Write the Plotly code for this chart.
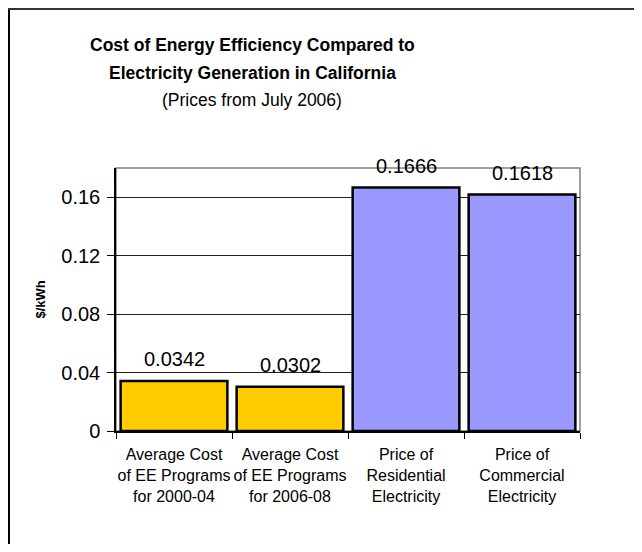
import plotly.graph_objects as go

categories = [
    "Average Cost<br>of EE Programs<br>for 2000-04",
    "Average Cost<br>of EE Programs<br>for 2006-08",
    "Price of<br>Residential<br>Electricity",
    "Price of<br>Commercial<br>Electricity",
]
values = [0.0342, 0.0302, 0.1666, 0.1618]
value_labels = ["0.0342", "0.0302", "0.1666", "0.1618"]
bar_colors = ["#FFCC00", "#FFCC00", "#9999FF", "#9999FF"]
y_tickvals = [0, 0.04, 0.08, 0.12, 0.16]
y_ticktext = ["0", "0.04", "0.08", "0.12", "0.16"]

FONT = "Liberation Sans, Arial, sans-serif"

# the page body adds an 8px margin on every side; size the figure to fit
OFF = 8
W, H = 642 - 2 * OFF, 552 - 2 * OFF
PLOT_L, PLOT_R, PLOT_T, PLOT_B = 116, 580, 168, 431   # page pixels
ML = PLOT_L - OFF
MT = PLOT_T - OFF
MR = W - (PLOT_R - OFF)
MB = H - (PLOT_B - OFF)
PW = W - ML - MR
PH = H - MT - MB


def px_x(x):
    return (x - OFF - ML) / PW


def px_y(y):
    return (H - MB - (y - OFF)) / PH


fig = go.Figure()
fig.add_trace(go.Bar(
    x=categories,
    y=values,
    marker=dict(color=bar_colors, line=dict(color="black", width=2.5)),
    showlegend=False,
    hoverinfo="x+y",
))

annotations = []
for c, v, t in zip(categories, values, value_labels):
    annotations.append(dict(
        x=c, y=v, xref="x", yref="y", text=t, showarrow=False,
        yanchor="bottom", yshift=9,
        font=dict(family=FONT, size=20, color="black"),
    ))

annotations += [
    dict(x=px_x(252), y=px_y(45), xref="paper", yref="paper",
         text="<b>Cost of Energy Efficiency Compared to</b>", showarrow=False,
         xanchor="center", yanchor="middle",
         font=dict(family=FONT, size=17.5, color="black")),
    dict(x=px_x(252), y=px_y(73), xref="paper", yref="paper",
         text="<b>Electricity Generation in California</b>", showarrow=False,
         xanchor="center", yanchor="middle",
         font=dict(family=FONT, size=17.5, color="black")),
    dict(x=px_x(252), y=px_y(100), xref="paper", yref="paper",
         text="(Prices from July 2006)", showarrow=False,
         xanchor="center", yanchor="middle",
         font=dict(family=FONT, size=17.5, color="black")),
    dict(x=px_x(40), y=0.5, xref="paper", yref="paper",
         text="<b>$/kWh</b>", showarrow=False, textangle=-90,
         xanchor="center", yanchor="middle",
         font=dict(family=FONT, size=13, color="black")),
]

EDGE = OFF + 1
shapes = [
    # outer chart border: only its left and top edges fall inside the frame
    dict(type="line", xref="paper", yref="paper",
         x0=px_x(EDGE), y0=px_y(EDGE - 1), x1=px_x(EDGE), y1=px_y(OFF + H),
         line=dict(color="black", width=2), layer="below"),
    dict(type="line", xref="paper", yref="paper",
         x0=px_x(EDGE - 1), y0=px_y(EDGE), x1=px_x(OFF + W), y1=px_y(EDGE),
         line=dict(color="#333333", width=2), layer="below"),
    # plot area border
    dict(type="rect", xref="paper", yref="paper",
         x0=0, y0=0, x1=1, y1=1,
         line=dict(color="#808080", width=1.5), layer="below"),
]

fig.update_layout(
    width=W, height=H,
    margin=dict(l=ML, r=MR, t=MT, b=MB, pad=0, autoexpand=False),
    paper_bgcolor="white", plot_bgcolor="white",
    bargap=0.08,
    font=dict(family=FONT, color="black"),
    annotations=annotations,
    shapes=shapes,
    xaxis=dict(
        showline=True, linecolor="black", linewidth=1.5,
        ticks="outside", tickson="boundaries", ticklen=6, tickcolor="black",
        tickangle=0, automargin=False, ticklabelstandoff=8,
        tickfont=dict(family=FONT, size=16, color="black"),
        showgrid=False, fixedrange=True,
    ),
    yaxis=dict(
        range=[0, 0.18],
        tickvals=y_tickvals, ticktext=y_ticktext,
        showline=True, linecolor="black", linewidth=1.5,
        ticks="outside", ticklen=7, tickcolor="black",
        automargin=False, ticklabelstandoff=3,
        tickfont=dict(family=FONT, size=20, color="black"),
        showgrid=True, gridcolor="#202020", gridwidth=1,
        zeroline=False, fixedrange=True,
    ),
)

fig.write_html("out.html")
